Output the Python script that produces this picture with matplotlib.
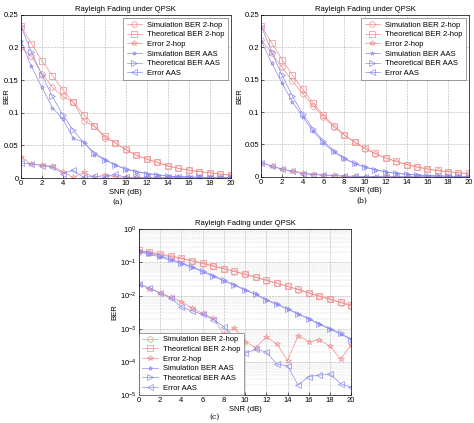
import matplotlib
matplotlib.use('Agg')
import matplotlib.pyplot as plt
import numpy as np

# SNR axis
snr = list(range(0, 21))

# panel (a)
a_sim_2hop = [0.200, 0.187, 0.160, 0.139, 0.125, 0.116, 0.088, 0.079, 0.062, 0.054, 0.043,
              0.035, 0.029, 0.024, 0.018, 0.015, 0.012, 0.010, 0.008, 0.006, 0.004]
a_theo_2hop = [0.233, 0.206, 0.180, 0.157, 0.135, 0.116, 0.097, 0.080, 0.064, 0.054, 0.044,
               0.035, 0.029, 0.024, 0.019, 0.015, 0.012, 0.010, 0.008, 0.006, 0.005]
a_err_2hop = [0.033, 0.021, 0.020, 0.018, 0.010, 0.001, 0.009, 0.001, 0.005, 0.002, 0.001,
              0.001, 0.001, 0.001, 0.001, 0.001, 0.001, 0.001, 0.001, 0.001, 0.001]
a_sim_aas = [0.210, 0.171, 0.139, 0.108, 0.090, 0.061, 0.055, 0.036, 0.028, 0.020, 0.013,
             0.010, 0.007, 0.005, 0.003, 0.002, 0.002, 0.001, 0.001, 0.001, 0.001]
a_theo_aas = [0.233, 0.193, 0.158, 0.125, 0.097, 0.073, 0.054, 0.039, 0.028, 0.020, 0.014,
              0.010, 0.007, 0.005, 0.003, 0.002, 0.0015, 0.001, 0.0007, 0.0006, 0.0005]
a_err_aas = [0.023, 0.022, 0.019, 0.017, 0.007, 0.012, 0.001, 0.003, 0.001, 0.006, 0.001,
             0.001, 0.001, 0.001, 0.001, 0.001, 0.0005, 0.001, 0.0003, 0.0004, 0.0005]

# panels (b) and (c) share the same data
b_sim_2hop = [0.211, 0.191, 0.169, 0.148, 0.1285, 0.110, 0.092, 0.077, 0.0643, 0.053, 0.0436,
              0.0357, 0.0285, 0.0236, 0.0189, 0.0149, 0.0119, 0.0094, 0.0077, 0.0061, 0.0049]
b_theo_2hop = [0.233, 0.207, 0.181, 0.157, 0.135, 0.114, 0.095, 0.079, 0.065, 0.054, 0.044,
               0.036, 0.029, 0.024, 0.019, 0.0156, 0.0123, 0.0099, 0.008, 0.0062, 0.0052]
b_err_2hop = [0.022, 0.016, 0.012, 0.009, 0.0065, 0.0043, 0.0029, 0.0021, 0.00068, 0.00107, 0.00041,
              0.00027, 0.00057, 0.00035, 0.00011, 0.00062, 0.00041, 0.00046, 0.0003, 0.00012, 0.00033]
b_sim_aas = [0.210, 0.176, 0.145, 0.116, 0.0925, 0.0705, 0.0523, 0.0381, 0.0278, 0.0205, 0.0148,
             0.0108, 0.0074, 0.0054, 0.0039, 0.0028, 0.0020, 0.00136, 0.00097, 0.0007, 0.00049]
b_theo_aas = [0.233, 0.193, 0.157, 0.125, 0.097, 0.074, 0.055, 0.040, 0.029, 0.021, 0.015,
              0.011, 0.0076, 0.0055, 0.0040, 0.0028, 0.0020, 0.0014, 0.00100, 0.00072, 0.00046]
b_err_aas = [0.022, 0.017, 0.012, 0.0085, 0.0045, 0.0035, 0.0027, 0.0019, 0.00115, 0.00054, 0.00018,
             0.00024, 0.0002, 8.5e-05, 7.7e-05, 2e-05, 3.6e-05, 4e-05, 4.4e-05, 2.2e-05, 1.7e-05]

labels = ['Simulation BER 2-hop', 'Theoretical BER 2-hop', 'Error 2-hop',
          'Simulation BER AAS', 'Theoretical BER AAS', 'Error AAS']

RED = '#f08c8c'
BLUE = '#8c8cf0'
styles = [(RED, 'o', 4), (RED, 's', 4), (RED, '*', 4),
          (BLUE, '*', 3), (BLUE, '>', 4), (BLUE, '<', 4)]

plt.rcParams['font.family'] = ['Liberation Sans', 'DejaVu Sans']
plt.rcParams['font.size'] = 5.5


def draw(ax, series, log=False, loc='upper right'):
    for y, (c, m, ms), lab in zip(series, styles, labels):
        ax.plot(snr, y, color=c, marker=m, markersize=ms, markerfacecolor='none',
                markeredgewidth=0.5, linewidth=0.5, label=lab)
    ax.set_xlim(0, 20)
    ax.set_xticks(range(0, 21, 2))
    if log:
        ax.set_yscale('log')
        ax.set_ylim(1e-5, 1)
        ax.grid(True, which='major', linestyle='--', color='#b0b0b0', linewidth=0.4)
        ax.grid(True, which='minor', axis='y', linestyle='--', color='#c8c8c8', linewidth=0.3)
    else:
        ax.set_ylim(0, 0.25)
        ax.set_yticks([0, 0.05, 0.1, 0.15, 0.2, 0.25])
        ax.set_yticklabels(['0', '0.05', '0.1', '0.15', '0.2', '0.25'])
        ax.grid(True, linestyle='--', color='#b0b0b0', linewidth=0.4)
    ax.tick_params(labelsize=5.5, length=2, width=0.4, pad=1.5, direction='in')
    ax.tick_params(which='minor', length=1, width=0.3, direction='in')
    for s in ax.spines.values():
        s.set_linewidth(0.5)
    ax.set_title('Rayleigh Fading under QPSK', fontsize=5.5, pad=3)
    ax.set_xlabel('SNR (dB)', fontsize=5.5, labelpad=1)
    ax.set_ylabel('BER', fontsize=5.5, labelpad=1)
    opts = dict(fontsize=5.5, handlelength=2.0, borderpad=0.45, labelspacing=0.3,
                handletextpad=0.7, fancybox=False)
    if loc == 'upper right':
        leg = ax.legend(loc='upper right', bbox_to_anchor=(0.995, 0.99),
                        borderaxespad=0.2, **opts)
    else:
        leg = ax.legend(loc='lower left', borderaxespad=0.0, **opts)
    leg.get_frame().set_linewidth(0.4)
    leg.get_frame().set_edgecolor('#555555')
    leg.get_frame().set_alpha(1)


fig = plt.figure(figsize=(4.74, 4.23), dpi=100)

ax_a = fig.add_axes([0.044, 0.579, 0.443, 0.386])
draw(ax_a, [a_sim_2hop, a_theo_2hop, a_err_2hop, a_sim_aas, a_theo_aas, a_err_aas])
ax_a.yaxis.set_label_coords(-0.052, 0.5)

ax_b = fig.add_axes([0.551, 0.582, 0.438, 0.383])
draw(ax_b, [b_sim_2hop, b_theo_2hop, b_err_2hop, b_sim_aas, b_theo_aas, b_err_aas])

ax_c = fig.add_axes([0.293, 0.066, 0.448, 0.392])
draw(ax_c, [b_sim_2hop, b_theo_2hop, b_err_2hop, b_sim_aas, b_theo_aas, b_err_aas],
     log=True, loc='lower left')

fig.text(118 / 474, 1 - 202 / 423, '(a)', family='DejaVu Serif', fontsize=5.5, ha='center', va='center')
fig.text(362 / 474, 1 - 201 / 423, '(b)', family='DejaVu Serif', fontsize=5.5, ha='center', va='center')
fig.text(215 / 474, 1 - 417 / 423, '(c)', family='DejaVu Serif', fontsize=5.5, ha='center', va='center')

fig.savefig('out.png', dpi=100)
